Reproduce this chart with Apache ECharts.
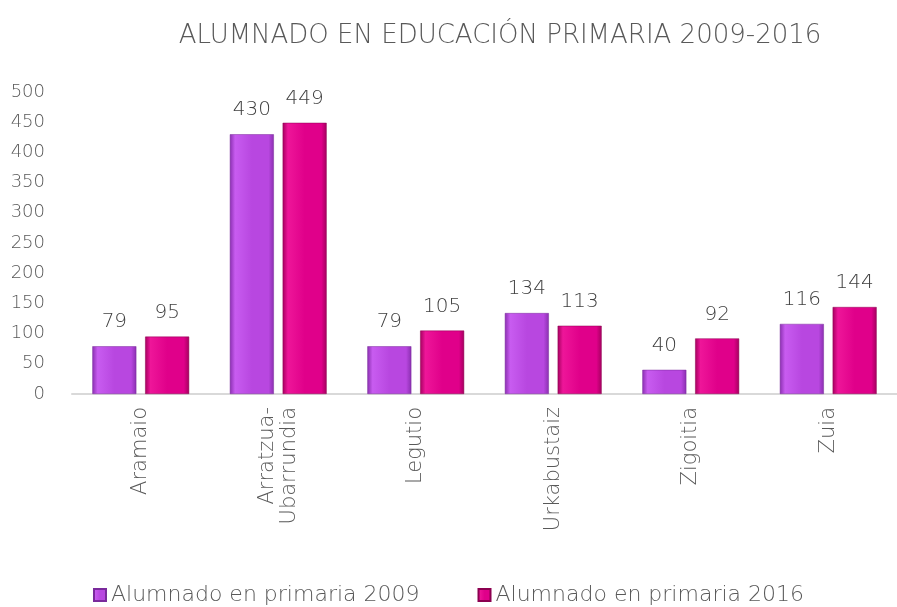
<!DOCTYPE html>
<html>
<head>
<meta charset="utf-8">
<script src="https://cdn.jsdelivr.net/npm/echarts@6/dist/echarts.min.js"></script>
<style>
  html, body { margin: 0; padding: 0; background: #fff; }
  #chart { width: 897px; height: 607px; }
</style>
</head>
<body>
<div id="chart"></div>
<script>
// Municipalities and pupil counts in primary education
const categories = ['Aramaio', 'Arratzua-\nUbarrundia', 'Legutio', 'Urkabustaiz', 'Zigoitia', 'Zuia'];
const seriesNames = ['Alumnado en primaria 2009', 'Alumnado en primaria 2016'];
const values2009 = [79, 430, 79, 134, 40, 116];
const values2016 = [95, 449, 105, 113, 92, 144];
const yTicks = [0, 50, 100, 150, 200, 250, 300, 350, 400, 450, 500];

const FONT = 'DejaVu Sans';
const WEIGHT = 200;
const TEXT = '#595959';

// Bevelled fill: darker at the edges, lighter in the middle
function bevel(edge, mid, light) {
  return new echarts.graphic.LinearGradient(0, 0, 1, 0, [
    { offset: 0, color: edge },
    { offset: 0.12, color: light },
    { offset: 0.5, color: mid },
    { offset: 0.88, color: mid },
    { offset: 1, color: edge }
  ]);
}

const fill2009 = bevel('#8a2fb0', '#b847e0', '#c85cf0');
const fill2016 = bevel('#a5005f', '#e0008a', '#ee1699');

const chart = echarts.init(document.getElementById('chart'));
chart.setOption({
  animation: false,
  title: {
    text: 'ALUMNADO EN EDUCACIÓN PRIMARIA 2009-2016',
    left: 495, top: 18, textAlign: 'center',
    textStyle: { fontFamily: FONT, fontSize: 26, fontWeight: WEIGHT, color: TEXT }
  },
  legend: {
    data: seriesNames,
    bottom: -4, left: 'center',
    itemWidth: 12, itemHeight: 12, itemGap: 58,
    icon: 'rect',
    textStyle: { fontFamily: FONT, fontSize: 22, fontWeight: WEIGHT, color: TEXT }
  },
  grid: { left: 72, width: 834, top: 92, bottom: 213, containLabel: false },
  xAxis: {
    type: 'category',
    data: categories,
    axisLine: { lineStyle: { color: '#d9d9d9', width: 2 } },
    axisTick: { show: false },
    axisLabel: {
      rotate: 90, margin: 13, interval: 0,
      fontFamily: FONT, fontSize: 21, fontWeight: WEIGHT, color: TEXT, lineHeight: 22
    }
  },
  yAxis: {
    type: 'value',
    min: yTicks[0], max: yTicks[yTicks.length - 1], interval: 50,
    splitLine: { show: false },
    axisLine: { show: false },
    axisTick: { show: false },
    axisLabel: { margin: 27, fontFamily: FONT, fontSize: 18, fontWeight: WEIGHT, color: TEXT }
  },
  series: [
    {
      name: seriesNames[0], type: 'bar', data: values2009,
      barWidth: 44, barGap: '20%',
      itemStyle: { color: fill2009, borderColor: '#7a2a9c', borderWidth: 0.5 },
      label: { show: true, position: 'top', distance: 14, fontFamily: FONT, fontSize: 20, fontWeight: WEIGHT, color: '#404040' }
    },
    {
      name: seriesNames[1], type: 'bar', data: values2016,
      barWidth: 44,
      itemStyle: { color: fill2016, borderColor: '#8c0050', borderWidth: 0.5 },
      label: { show: true, position: 'top', distance: 14, fontFamily: FONT, fontSize: 20, fontWeight: WEIGHT, color: '#404040' }
    }
  ]
});
</script>
</body>
</html>
